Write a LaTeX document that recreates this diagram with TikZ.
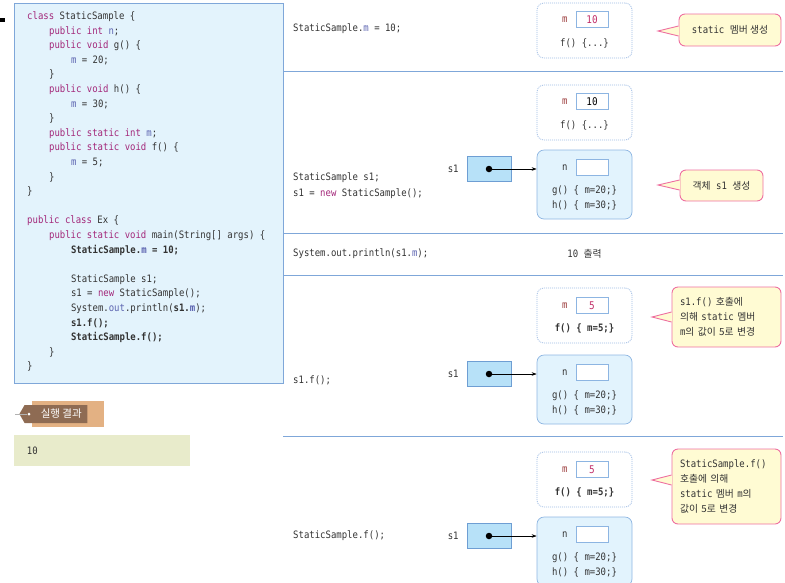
\documentclass[tikz,border=0pt]{standalone}
\usepackage{fontspec}
\setmainfont{DejaVu Sans}
\setmonofont{DejaVu Sans Mono}[FakeStretch=0.88]
\newfontfamily\hangul{Noto Sans CJK KR}
\usetikzlibrary{positioning,calc,arrows.meta,shapes.symbols}

\definecolor{codebg}{HTML}{E3F3FC}
\definecolor{lineblue}{HTML}{7FA7D9}
\definecolor{objbg}{HTML}{E2F3FD}
\definecolor{objline}{HTML}{8DB5E2}
\definecolor{dashc}{HTML}{9DBBE3}
\definecolor{refbg}{HTML}{B7E1F8}
\definecolor{refline}{HTML}{6E9ED3}
\definecolor{notebg}{HTML}{FFFBD3}
\definecolor{notec}{HTML}{EE6FA0}
\definecolor{kwc}{HTML}{A3287A}
\definecolor{fldc}{HTML}{5B63B0}
\definecolor{txtc}{HTML}{333333}
\definecolor{valc}{HTML}{C22F69}
\definecolor{mcol}{HTML}{9B3B3B}
\definecolor{tanc}{HTML}{E3B183}
\definecolor{tagc}{HTML}{8E6B53}
\definecolor{resbg}{HTML}{E8EBCB}

\newcommand\kwd[1]{\textcolor{kwc}{#1}}
\newcommand\fldv[1]{\textcolor{fldc}{#1}}
\newcommand\indt{\hspace*{21.9pt}}
\newcommand\kt[1]{{\hangul\fontsize{9.8}{15}\selectfont #1}}

\begin{document}
\begin{tikzpicture}[
    x=1pt, y=-1pt,
    code/.style={font=\ttfamily\fontsize{10.2}{14.6}\selectfont, text=txtc,
                 inner sep=0pt, anchor=west},
    statbox/.style={draw=dashc, dash pattern=on 1pt off 1pt, line width=0.8pt,
                    rounded corners=7pt, minimum width=95pt, minimum height=55pt},
    objbox/.style={draw=objline, fill=objbg, rounded corners=7pt, line width=0.7pt,
                   minimum width=95pt, minimum height=69pt},
    valbox/.style={draw=objline, fill=white, line width=0.7pt, minimum width=32pt,
                   minimum height=16pt, inner sep=0pt,
                   font=\ttfamily\fontsize{10.6}{12}\selectfont},
    refbox/.style={draw=refline, fill=refbg, minimum width=44pt, minimum height=25pt},
    refdot/.style={circle, fill=black, inner sep=0pt, minimum size=6.5pt},
    ptr/.style={-{Stealth[length=5pt,width=3.5pt]}, line width=0.5pt},
    note/.style={draw=notec, fill=notebg, rounded corners=6pt, line width=0.9pt,
                 text=txtc, inner xsep=8pt, inner ysep=0pt,
                 font=\ttfamily\fontsize{10.2}{15}\selectfont},
    sep/.style={draw=lineblue, line width=0.8pt}
]
\useasboundingbox (0,0) rectangle (785,582);

%% ── Source code ──────────────────────────────────────────────────
\fill (0,18) rectangle (5,22);
\node[draw=lineblue, fill=codebg, line width=0.8pt, anchor=north west,
      minimum width=269pt, minimum height=380pt] (codebox) at (14,3) {};
\node[code, anchor=north west, align=left] (src) at (27,11.5) {%
\kwd{class} StaticSample \{\\
\indt\kwd{public int} \fldv{n};\\
\indt\kwd{public void} g() \{\\
\indt\indt\fldv{m} = 20;\\
\indt\}\\
\indt\kwd{public void} h() \{\\
\indt\indt\fldv{m} = 30;\\
\indt\}\\
\indt\kwd{public static int} \fldv{m};\\
\indt\kwd{public static void} f() \{\\
\indt\indt\fldv{m} = 5;\\
\indt\}\\
\}\\[14.6pt]
\kwd{public class} Ex \{\\
\indt\kwd{public static void} main(String[] args) \{\\
\indt\indt\textbf{StaticSample.\fldv{m} = 10;}\\[14.6pt]
\indt\indt StaticSample s1;\\
\indt\indt s1 = \kwd{new} StaticSample();\\
\indt\indt System.\fldv{out}.println(\textbf{s1.\fldv{m}});\\
\indt\indt\textbf{s1.f();}\\
\indt\indt\textbf{StaticSample.f();}\\
\indt\}\\
\}};

%% ── Result ───────────────────────────────────────────────────────
\node[fill=tanc, minimum width=72pt, minimum height=26pt] (restab) at (68,414) {};
\node[signal, signal to=west, signal pointer angle=120, fill=tagc, inner sep=0pt,
      minimum width=68pt, minimum height=18pt, text=white,
      font=\hangul\fontsize{10.5}{12}\selectfont] (restag) at (56,414) {\quad 실행 결과};
\node[circle, fill=white, inner sep=0pt, minimum size=3pt] (hole) at (29,414) {};
\coordinate (strg) at (15,414);
\draw[gray!60, line width=0.6pt] (strg) -- (hole);
\node[fill=resbg, minimum width=176pt, minimum height=31pt] (resbox) at (102,450.5) {};
\node[code, right=13pt of resbox.west] (resval) {10};

%% ── Row separators ───────────────────────────────────────────────
\draw[sep] (283,71)  -- (783,71);
\draw[sep] (283,233) -- (783,233);
\draw[sep] (283,275) -- (783,275);
\draw[sep] (283,436) -- (783,436);

%% ── Row 1: StaticSample.m = 10 ──────────────────────────────────
\node[code] (row1) at (293,29) {StaticSample.\fldv{m} = 10;};
\node[statbox] (cls1) at (584.5,30.5) {};
\node[valbox, text=valc] (m1) at ($(cls1.north)+(7.5,17)$) {10};
\node[code, text=mcol, left=8pt of m1] (ml1) {m};
\node[code, anchor=center] (f1) at ($(cls1.north)+(0,40.5)$) {f() \{...\}};
\node[note, minimum width=102pt, minimum height=32pt] (c1) at (730,30)
    {static \kt{멤버 생성}};

%% ── Row 2: s1 = new StaticSample() ──────────────────────────────
\node[code, align=left] (row2) at (293,186) {StaticSample s1;\\[1.4pt]s1 = \kwd{new} StaticSample();};
\node[statbox] (cls2) at (584.5,112.5) {};
\node[valbox] (m2) at ($(cls2.north)+(7.5,17)$) {10};
\node[code, text=mcol, left=8pt of m2] (ml2) {m};
\node[code, anchor=center] (f2) at ($(cls2.north)+(0,40.5)$) {f() \{...\}};
\node[objbox] (obj2) at (584.5,184.5) {};
\node[valbox] (n2) at ($(obj2.north)+(7.5,18)$) {};
\node[code, left=8pt of n2] (nl2) {n};
\node[code, anchor=center] (g2) at ($(obj2.north)+(0,41.5)$) {g() \{ m=20;\}};
\node[code, anchor=center] (h2) at ($(obj2.north)+(0,55.5)$) {h() \{ m=30;\}};
\node[refbox] (ref2) at (489,169) {};
\node[refdot] (d2) at (ref2) {};
\node[code, left=8pt of ref2] (s2) {s1};
\draw[ptr] (d2) -- (obj2.west |- d2);
\node[note, minimum width=83pt, minimum height=31pt] (c2) at (721.5,185.5)
    {\kt{객체} s1 \kt{생성}};

%% ── Row 3: println ───────────────────────────────────────────────
\node[code] (row3) at (293,254) {System.out.println(s1.\fldv{m});};
\node[code, anchor=center] (out3) at (584.5,254) {10 \kt{출력}};

%% ── Row 4: s1.f() ────────────────────────────────────────────────
\node[code] (row4) at (293,380) {s1.f();};
\node[statbox] (cls4) at (584.5,315.5) {};
\node[valbox, text=valc] (m4) at ($(cls4.north)+(7.5,18)$) {5};
\node[code, text=mcol, left=8pt of m4] (ml4) {m};
\node[code, anchor=center] (f4) at ($(cls4.north)+(0,41)$) {\textbf{f() \{ m=5;\}}};
\node[objbox] (obj4) at (584.5,389.5) {};
\node[valbox] (n4) at ($(obj4.north)+(7.5,18)$) {};
\node[code, left=8pt of n4] (nl4) {n};
\node[code, anchor=center] (g4) at ($(obj4.north)+(0,41.5)$) {g() \{ m=20;\}};
\node[code, anchor=center] (h4) at ($(obj4.north)+(0,55.5)$) {h() \{ m=30;\}};
\node[refbox] (ref4) at (489,374) {};
\node[refdot] (d4) at (ref4) {};
\node[code, left=8pt of ref4] (s4) {s1};
\draw[ptr] (d4) -- (obj4.west |- d4);
\node[note, minimum width=109pt, minimum height=60pt, text width=93pt, align=left]
    (c4) at (726.5,317)
    {s1.f() \kt{호출에}\\\kt{의해} static \kt{멤버}\\m\kt{의 값이 5로 변경}};

%% ── Row 5: StaticSample.f() ──────────────────────────────────────
\node[code] (row5) at (293,536) {StaticSample.f();};
\node[statbox] (cls5) at (584.5,479.5) {};
\node[valbox, text=valc] (m5) at ($(cls5.north)+(7.5,18)$) {5};
\node[code, text=mcol, left=8pt of m5] (ml5) {m};
\node[code, anchor=center] (f5) at ($(cls5.north)+(0,41)$) {\textbf{f() \{ m=5;\}}};
\node[objbox] (obj5) at (584.5,551.5) {};
\node[valbox] (n5) at ($(obj5.north)+(7.5,18)$) {};
\node[code, left=8pt of n5] (nl5) {n};
\node[code, anchor=center] (g5) at ($(obj5.north)+(0,41.5)$) {g() \{ m=20;\}};
\node[code, anchor=center] (h5) at ($(obj5.north)+(0,55.5)$) {h() \{ m=30;\}};
\node[refbox] (ref5) at (489,536) {};
\node[refdot] (d5) at (ref5) {};
\node[code, left=8pt of ref5] (s5) {s1};
\draw[ptr] (d5) -- (obj5.west |- d5);
\node[note, minimum width=109pt, minimum height=75pt, text width=93pt, align=left]
    (c5) at (726.5,486.5)
    {StaticSample.f()\\\kt{호출에 의해}\\static \kt{멤버} m\kt{의}\\\kt{값이 5로 변경}};

%% ── Callout pointers ─────────────────────────────────────────────
\coordinate (t1) at (658,31);
\coordinate (t2) at (658,185);
\coordinate (t4) at (652,317);
\coordinate (t5) at (652,480);
\foreach \cn/\tp in {c1/t1, c2/t2, c4/t4, c5/t5} {
  \filldraw[draw=notec, fill=notebg, line width=0.9pt]
    ($(\cn.west |- \tp)+(0,-5)$) -- (\tp) -- ($(\cn.west |- \tp)+(0,5)$);
  \fill[notebg] ($(\cn.west |- \tp)+(-0.6,-4.2)$) rectangle ($(\cn.west |- \tp)+(0.6,4.2)$);
}

\end{tikzpicture}
\end{document}
